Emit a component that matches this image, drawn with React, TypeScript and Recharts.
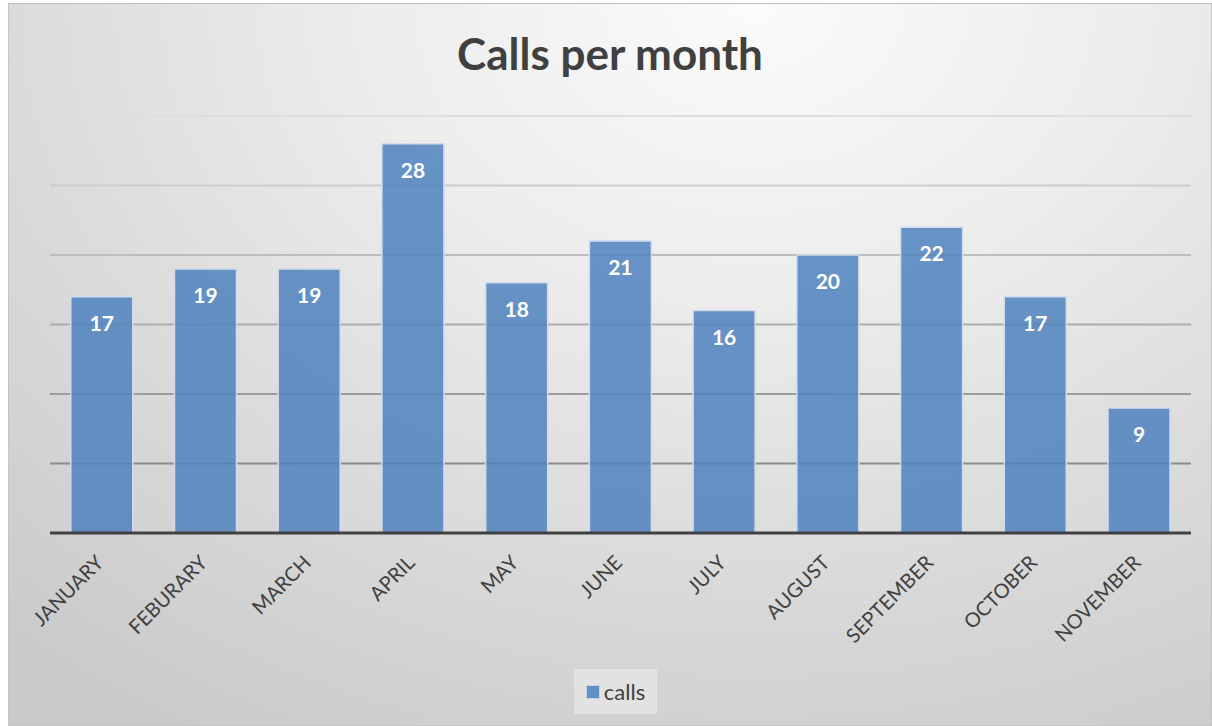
import React from 'react';
import { BarChart, Bar, XAxis, YAxis, CartesianGrid, Legend, LabelList } from 'recharts';

const months = ['JANUARY', 'FEBURARY', 'MARCH', 'APRIL', 'MAY', 'JUNE', 'JULY', 'AUGUST', 'SEPTEMBER', 'OCTOBER', 'NOVEMBER'];
const calls = [17, 19, 19, 28, 18, 21, 16, 20, 22, 17, 9];
const yTicks = [0, 5, 10, 15, 20, 25, 30];

const data = months.map((month, i) => ({ month, calls: calls[i] }));

const FONT = 'Lato, "Open Sans", sans-serif';

const MonthTick = (props: any) => {
  const { x, y, payload } = props;
  return (
    <g transform={`translate(${x + 3},${y + 23})`}>
      <text x={0} y={0} textAnchor="end" transform="rotate(-45)" fill="#404040" fontSize={20} fontFamily={FONT}>
        {payload.value}
      </text>
    </g>
  );
};

const LegendBox = () => (
  <div style={{ height: 74, display: 'flex', justifyContent: 'center', alignItems: 'flex-start' }}>
    <div
      style={{
        marginTop: 16,
        marginLeft: -10,
        width: 83,
        height: 45,
        background: '#e2e2e2',
        display: 'flex',
        alignItems: 'center',
        justifyContent: 'center',
        fontFamily: FONT,
        fontSize: 22,
        color: '#404040',
      }}
    >
      <span style={{ width: 12, height: 12, background: '#6190c6', border: '1px solid #c5d5ea', marginRight: 4 }} />
      calls
    </div>
  </div>
);

export default function App() {
  return (
    <div
      style={{
        position: 'absolute',
        left: 8,
        top: 3,
        width: 1204,
        height: 723,
        border: '1px solid #c4c4c4',
        boxSizing: 'border-box',
        background: 'radial-gradient(ellipse 95% 120% at 62% 0%, #fbfbfb 0%, #ececec 35%, #d8d8d8 70%, #c9c9c9 100%)',
        fontFamily: FONT,
      }}
    >
      <div
        style={{
          position: 'absolute',
          top: 24,
          left: 0,
          width: '100%',
          textAlign: 'center',
          fontSize: 44,
          fontWeight: 'bold',
          color: '#404040',
          lineHeight: '50px',
        }}
      >
        Calls per month
      </div>
      <BarChart
        width={1204}
        height={723}
        data={data}
        margin={{ top: 112, right: 22, left: 41, bottom: 0 }}
        barCategoryGap="20%"
      >
        <defs>
          <linearGradient id="gridFade" gradientUnits="userSpaceOnUse" x1="0" y1="112" x2="0" y2="529">
            <stop offset="0%" stopColor="#dedede" />
            <stop offset="100%" stopColor="#7a7a7a" />
          </linearGradient>
        </defs>
        <CartesianGrid vertical={false} stroke="url(#gridFade)" strokeWidth={2} />
        <XAxis
          dataKey="month"
          interval={0}
          height={120}
          tickLine={false}
          axisLine={{ stroke: '#404040', strokeWidth: 3 }}
          tick={<MonthTick />}
        />
        <YAxis hide domain={[0, 30]} ticks={yTicks} />
        <Legend verticalAlign="bottom" content={<LegendBox />} />
        <Bar
          dataKey="calls"
          fill="#4f81bd"
          fillOpacity={0.85}
          stroke="#d0dcec"
          strokeWidth={1.5}
          isAnimationActive={false}
        >
          <LabelList dataKey="calls" position="insideTop" offset={19} fill="#ffffff" fontSize={21} fontWeight="bold" fontFamily={FONT} />
        </Bar>
      </BarChart>
    </div>
  );
}
